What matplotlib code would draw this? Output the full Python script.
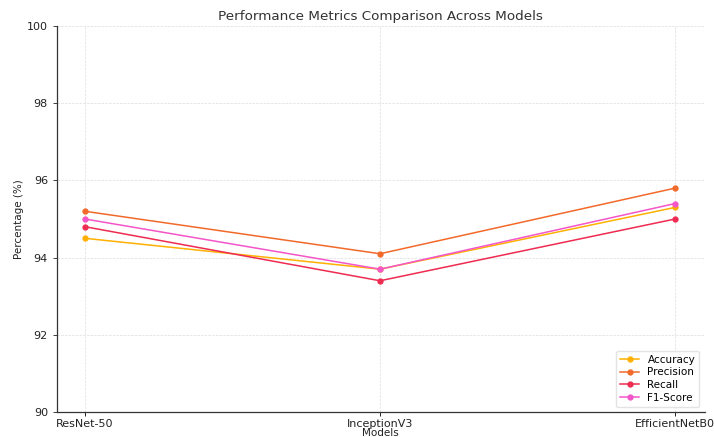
import matplotlib
matplotlib.use("Agg")
import matplotlib.pyplot as plt

models = ["ResNet-50", "InceptionV3", "EfficientNetB0"]
accuracy = [94.5, 93.7, 95.3]
precision = [95.2, 94.1, 95.8]
recall = [94.8, 93.4, 95.0]
f1_score = [95.0, 93.7, 95.4]

series = [
    ("Accuracy", accuracy, "#FFB000"),
    ("Precision", precision, "#F26A2A"),
    ("Recall", recall, "#EE2B50"),
    ("F1-Score", f1_score, "#F455C8"),
]

fig = plt.figure(figsize=(7.14, 4.37), dpi=100)
ax = fig.add_axes([0.0798, 0.0572, 0.907, 0.8833])

x = range(len(models))
for name, vals, color in series:
    ax.plot(x, vals, marker="o", markersize=3.5, linewidth=1.1, color=color, label=name)

ax.set_xticks(list(x))
ax.set_xticklabels(models, fontsize=8, color="#222222")
ax.set_ylim(90, 100)
ax.set_yticks([90, 92, 94, 96, 98, 100])
ax.tick_params(axis="y", labelsize=8, colors="#222222", length=3, width=0.6)
ax.tick_params(axis="x", length=3, width=0.6, pad=2)
ax.set_xlim(-0.095, 2.1)

ax.set_title("Performance Metrics Comparison Across Models", fontsize=9.7, color="#333333", pad=4)
ax.set_xlabel("Models", fontsize=7.5, color="#222222", labelpad=-1)
ax.set_ylabel("Percentage (%)", fontsize=7.5, color="#222222", labelpad=2)

ax.grid(True, linestyle="--", linewidth=0.5, color="#dddddd")
for side in ["top", "right"]:
    ax.spines[side].set_visible(False)
for side in ["left", "bottom"]:
    ax.spines[side].set_color("#333333")
    ax.spines[side].set_linewidth(0.9)

ax.legend(loc="lower right", fontsize=7.5, frameon=True, edgecolor="#dddddd",
          borderpad=0.4, handlelength=1.8, labelspacing=0.25)

fig.savefig("out.png", dpi=100)
